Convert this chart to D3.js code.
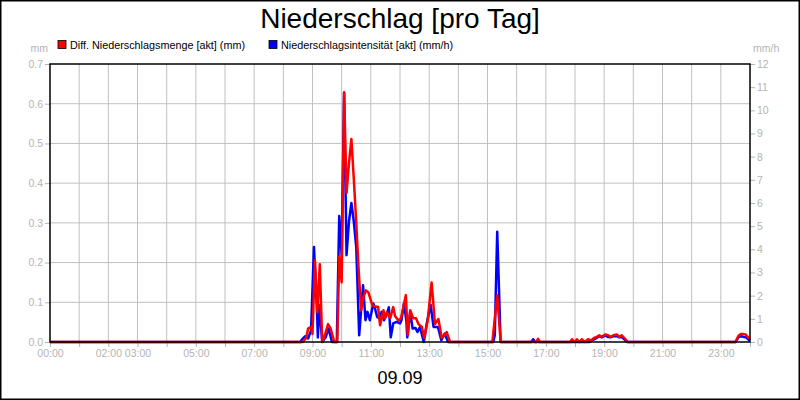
<!DOCTYPE html>
<html>
<head>
<meta charset="utf-8">
<script src="https://cdn.jsdelivr.net/npm/d3@7"></script>
<style>
  body { margin: 0; background: #fff; }
  text { font-family: "Liberation Sans", Arial, sans-serif; }
</style>
</head>
<body>
<div id="chart"></div>
<script>
// Diff. Niederschlagsmenge (mm), left axis
const redTimes = ["00:00","08:40","08:47","08:51","08:57","09:00","09:05","09:10","09:15","09:20",
  "09:26","09:32","09:37","09:45","09:51","09:55","10:00","10:05","10:10","10:15","10:20","10:25",
  "10:30","10:35","10:40","10:45","10:50","10:55","11:03","11:07","11:15","11:19","11:26","11:29",
  "11:33","11:40","11:46","11:50","11:57","12:02","12:07","12:12","12:16","12:21","12:27","12:33",
  "12:38","12:45","12:50","12:57","13:05","13:12","13:19","13:26","13:36","13:43","15:10","15:20",
  "15:27","16:40","16:44","16:48","17:50","17:54","17:59","18:04","18:09","18:14","18:20","18:27",
  "18:33","18:39","18:45","18:50","18:55","19:02","19:08","19:13","19:19","19:26","19:31","19:36",
  "19:43","19:48","23:30","23:36","23:41","23:46","23:51","23:56","24:00"];
const redValues = [0,0,0.01,0.034,0.038,0.02,0.206,0.075,0.196,0,
  0.02,0.045,0.035,0,0,0.216,0.15,0.629,0.375,0.45,0.511,0.41,
  0.30,0.18,0.08,0.114,0.13,0.125,0.093,0.09,0.088,0.042,0.08,0.06,
  0.075,0.06,0.088,0.065,0.054,0.06,0.088,0.118,0.017,0.08,0.06,0.06,
  0.045,0.038,0.01,0.055,0.15,0.045,0.058,0.01,0.025,0,0,0.118,
  0,0,0.008,0,0,0.007,0,0.007,0,0.007,0,0.007,
  0.004,0.01,0.013,0.017,0.013,0.019,0.017,0.013,0.017,0.019,0.013,0.017,
  0.008,0,0,0.015,0.02,0.02,0.019,0.012,0.008];

// Niederschlagsintensität (mm/h), right axis
const blueTimes = ["00:00","08:35","08:38","08:45","08:51","08:57","09:03","09:09","09:11","09:14",
  "09:20","09:27","09:33","09:40","09:50","09:55","10:00","10:05","10:10","10:15","10:20","10:25",
  "10:30","10:36","10:44","10:49","10:53","10:58","11:05","11:08","11:13","11:19","11:22","11:27",
  "11:32","11:37","11:41","11:46","11:53","12:00","12:03","12:08","12:13","12:15","12:21","12:26",
  "12:32","12:36","12:41","12:49","12:55","13:03","13:09","13:18","13:25","13:32","13:39","15:12",
  "15:15","15:20","15:27","16:30","16:34","16:38","18:30","18:38","18:45","18:50","18:55","19:02",
  "19:08","19:13","19:19","19:26","19:31","19:36","19:43","19:48","23:30","23:37","23:42","23:47",
  "23:52","23:57","24:00"];
const blueValues = [0,0,0.1,0.25,0.15,0.5,4.1,1.5,0.2,1.6,
  0,0.2,0.58,0,0,5.44,3.75,10.75,3.75,5.2,6.0,5.2,
  4.1,0.29,2.45,0.94,1.3,0.94,1.66,1.5,1.08,1.0,1.3,0.94,
  1.15,1.5,0.2,0.8,0.87,0.8,0.94,1.66,0.94,0.2,1.3,0.58,
  0.6,0.43,0.65,0,0.8,1.6,0.65,0.65,0.08,0.36,0,0,
  0.3,4.76,0,0,0.12,0,0,0.1,0.18,0.25,0.2,0.28,
  0.22,0.2,0.25,0.26,0.2,0.22,0.08,0,0,0.22,0.25,0.22,
  0.2,0.1,0.05];

// Axis ticks and labels
const mmTicks = [0, 0.1, 0.2, 0.3, 0.4, 0.5, 0.6, 0.7];
const mmhTicks = [0, 1, 2, 3, 4, 5, 6, 7, 8, 9, 10, 11, 12];
const hourTicks = [0,1,2,3,4,5,6,7,8,9,10,11,12,13,14,15,16,17,18,19,20,21,22,23,24];
const hourLabels = [0, 2, 3, 5, 7, 9, 11, 13, 15, 17, 19, 21, 23];

const seriesNames = ["Diff. Niederschlagsmenge [akt] (mm)", "Niederschlagsintensität [akt] (mm/h)"];
const seriesColors = ["#ff0000", "#0000ff"];

const W = 800, H = 400;
const margin = {top: 64, right: 50, bottom: 58, left: 50};
const width = W - margin.left - margin.right;
const height = H - margin.top - margin.bottom;
const grey = "#b4b4b4";

const toHours = t => { const p = t.split(":"); return +p[0] + +p[1] / 60; };
const pad = n => (n < 10 ? "0" : "") + n;

const svg = d3.select("#chart").append("svg")
    .attr("width", W)
    .attr("height", H);

// outer frame
svg.append("rect")
    .attr("x", 0.75).attr("y", 0.75)
    .attr("width", W - 1.5).attr("height", H - 1.5)
    .attr("fill", "#fff")
    .attr("stroke", "#000")
    .attr("stroke-width", 1.5);

const g = svg.append("g")
    .attr("transform", `translate(${margin.left}, ${margin.top})`);

const x = d3.scaleLinear().domain([0, 24]).range([0, width]);
const yL = d3.scaleLinear().domain([0, 0.7]).range([height, 0]);
const yR = d3.scaleLinear().domain([0, 12]).range([height, 0]);

// grid
g.append("g").selectAll("line")
    .data(hourTicks.slice(1, -1))
    .enter().append("line")
    .attr("x1", d => x(d)).attr("x2", d => x(d))
    .attr("y1", 0).attr("y2", height)
    .attr("stroke", "#c0c0c0").attr("stroke-width", 1);

g.append("g").selectAll("line")
    .data(mmTicks.slice(1, -1))
    .enter().append("line")
    .attr("x1", 0).attr("x2", width)
    .attr("y1", d => yL(d)).attr("y2", d => yL(d))
    .attr("stroke", "#c0c0c0").attr("stroke-width", 1);

function styleAxis(sel) {
  sel.select(".domain").remove();
  sel.selectAll(".tick line").attr("stroke", grey);
  sel.selectAll(".tick text")
      .attr("fill", grey)
      .style("font-size", "10.5px")
      .style("font-family", "'Liberation Sans', Arial, sans-serif");
}

// axes
g.append("g")
    .call(d3.axisLeft(yL).tickValues(mmTicks).tickSize(5).tickPadding(2).tickFormat(d3.format(".1f")))
    .call(styleAxis);

g.append("g")
    .attr("transform", `translate(${width}, 0)`)
    .call(d3.axisRight(yR).tickValues(mmhTicks).tickSize(5).tickPadding(2))
    .call(styleAxis);

g.append("g")
    .attr("transform", `translate(0, ${height})`)
    .call(d3.axisBottom(x).tickValues(hourTicks).tickSize(5).tickPadding(3)
        .tickFormat(d => hourLabels.includes(d) ? pad(d) + ":00" : ""))
    .call(styleAxis);

// unit labels
g.append("text")
    .attr("x", -2).attr("y", -12)
    .attr("text-anchor", "end")
    .attr("fill", grey)
    .style("font-size", "10.5px")
    .text("mm");

g.append("text")
    .attr("x", width + 3).attr("y", -12)
    .attr("fill", grey)
    .style("font-size", "10.5px")
    .text("mm/h");

// lines
const redData = redTimes.map((t, i) => ({h: toHours(t), v: redValues[i]}));
const blueData = blueTimes.map((t, i) => ({h: toHours(t), v: blueValues[i]}));

g.append("path")
    .datum(blueData)
    .attr("fill", "none")
    .attr("stroke", seriesColors[1])
    .attr("stroke-width", 2.5)
    .attr("stroke-linejoin", "round")
    .attr("d", d3.line().x(d => x(d.h)).y(d => yR(d.v)));

g.append("path")
    .datum(redData)
    .attr("fill", "none")
    .attr("stroke", seriesColors[0])
    .attr("stroke-width", 2.5)
    .attr("stroke-linejoin", "round")
    .attr("d", d3.line().x(d => x(d.h)).y(d => yL(d.v)));

// plot frame
g.append("rect")
    .attr("x", 0).attr("y", 0)
    .attr("width", width).attr("height", height)
    .attr("fill", "none")
    .attr("stroke", "#000")
    .attr("stroke-width", 1.5);

// title
svg.append("text")
    .attr("x", W / 2).attr("y", 28)
    .attr("text-anchor", "middle")
    .style("font-size", "28px")
    .text("Niederschlag [pro Tag]");

// legend
const legendX = [58, 269];
seriesNames.forEach((name, i) => {
  svg.append("rect")
      .attr("x", legendX[i]).attr("y", 40.5)
      .attr("width", 8).attr("height", 8)
      .attr("fill", seriesColors[i])
      .attr("stroke", "#000")
      .attr("stroke-width", 0.8);
  svg.append("text")
      .attr("x", legendX[i] + 12).attr("y", 48.5)
      .style("font-size", "10.8px")
      .text(name);
});

// date label
svg.append("text")
    .attr("x", W / 2).attr("y", 384)
    .attr("text-anchor", "middle")
    .style("font-size", "18px")
    .text("09.09");
</script>
</body>
</html>
